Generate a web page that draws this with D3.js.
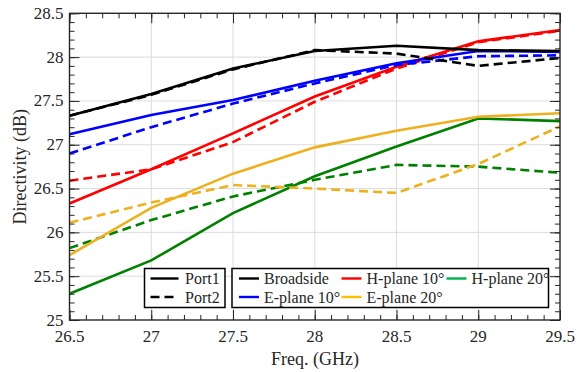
<!DOCTYPE html>
<html><head><meta charset="utf-8">
<script src="https://cdn.jsdelivr.net/npm/d3@7"></script>
</head><body style="margin:0;background:#fff">
<svg width="577" height="372" id="s" font-family="Times New Roman, Liberation Serif, serif" style="display:block"></svg>
<script>
const freqs = [26.5, 27, 27.5, 28, 28.5, 29, 29.5];
const xTicks = [26.5, 27, 27.5, 28, 28.5, 29, 29.5];
const yTicks = [25, 25.5, 26, 26.5, 27, 27.5, 28, 28.5];
const seriesNames = ["Broadside", "E-plane 10°", "H-plane 10°", "E-plane 20°", "H-plane 20°"];
const seriesColors = ["#000000", "#0000ff", "#ff0000", "#edb120", "#008000"];
const legendColors = ["#000000", "#0000ff", "#ff0000", "#ffc000", "#00b050"];
const broadsideP1 = [27.33, 27.58, 27.87, 28.07, 28.13, 28.08, 28.07];
const broadsideP2 = [27.33, 27.57, 27.86, 28.08, 28.04, 27.90, 27.99];
const ePlane10P1 = [27.12, 27.34, 27.51, 27.73, 27.93, 28.07, 28.06];
const ePlane10P2 = [26.90, 27.20, 27.47, 27.70, 27.91, 28.01, 28.02];
const hPlane10P1 = [26.33, 26.72, 27.13, 27.55, 27.89, 28.18, 28.31];
const hPlane10P2 = [26.59, 26.72, 27.03, 27.49, 27.87, 28.17, 28.30];
const ePlane20P1 = [25.74, 26.28, 26.67, 26.97, 27.16, 27.32, 27.36];
const ePlane20P2 = [26.11, 26.34, 26.54, 26.50, 26.45, 26.78, 27.21];
const hPlane20P1 = [25.30, 25.68, 26.22, 26.64, 26.98, 27.30, 27.27];
const hPlane20P2 = [25.82, 26.14, 26.41, 26.60, 26.77, 26.75, 26.68];

const port1 = [broadsideP1, ePlane10P1, hPlane10P1, ePlane20P1, hPlane20P1];
const port2 = [broadsideP2, ePlane10P2, hPlane10P2, ePlane20P2, hPlane20P2];

const FONT = "Times New Roman, Liberation Serif, serif";
const L = 69.5, R = 560, T = 13.3, B = 320;
const svg = d3.select("#s");
const x = d3.scaleLinear().domain([26.5, 29.5]).range([L, R]);
const y = d3.scaleLinear().domain([25, 28.5]).range([B, T]);

// grid
const g = svg.append("g");
g.selectAll(".gx").data(xTicks.slice(1, -1)).enter().append("line")
  .attr("x1", d => x(d)).attr("x2", d => x(d)).attr("y1", T).attr("y2", B)
  .attr("stroke", "#dcdcdc").attr("stroke-width", 1);
g.selectAll(".gy").data(yTicks.slice(1, -1)).enter().append("line")
  .attr("y1", d => y(d)).attr("y2", d => y(d)).attr("x1", L).attr("x2", R)
  .attr("stroke", "#dcdcdc").attr("stroke-width", 1);

// data lines
const line = d3.line().x((d, i) => x(freqs[i])).y(d => y(d));
const plot = svg.append("g");
[4, 3, 2, 1, 0].forEach(k => {
  plot.append("path").attr("d", line(port2[k])).attr("fill", "none")
    .attr("stroke", seriesColors[k]).attr("stroke-width", 2.6).attr("stroke-dasharray", "9,5");
  plot.append("path").attr("d", line(port1[k])).attr("fill", "none")
    .attr("stroke", seriesColors[k]).attr("stroke-width", 2.6);
});

// ticks (inward) via axes
const axC = "#262626";
const xMinor = d3.range(26.5, 29.5001, 0.1).map(v => +v.toFixed(2));
const yMinor = d3.range(25, 28.5001, 0.1).map(v => +v.toFixed(2));
const axG = svg.append("g");
function ax(gen, tr, vals, size) {
  axG.append("g").attr("transform", tr)
    .call(gen.tickValues(vals).tickSizeInner(-size).tickSizeOuter(0).tickFormat(""));
}
ax(d3.axisBottom(x), `translate(0,${B})`, xTicks, 10);
ax(d3.axisTop(x), `translate(0,${T})`, xTicks, 10);
ax(d3.axisLeft(y), `translate(${L},0)`, yTicks, 10);
ax(d3.axisRight(y), `translate(${R},0)`, yTicks, 10);
ax(d3.axisBottom(x), `translate(0,${B})`, xMinor, 5);
ax(d3.axisTop(x), `translate(0,${T})`, xMinor, 5);
ax(d3.axisLeft(y), `translate(${L},0)`, yMinor, 5);
ax(d3.axisRight(y), `translate(${R},0)`, yMinor, 5);
axG.selectAll(".domain").remove();
axG.selectAll(".tick text").remove();
axG.selectAll(".tick line").attr("stroke", axC).attr("stroke-width", 1);
axG.append("rect").attr("x", L).attr("y", T).attr("width", R - L).attr("height", B - T)
  .attr("fill", "none").attr("stroke", axC).attr("stroke-width", 1.4);

const txt = svg.append("g");
txt.selectAll(".xl").data(xTicks).enter().append("text")
  .attr("x", d => x(d)).attr("y", 342).attr("text-anchor", "middle")
  .attr("font-family", FONT).attr("font-size", 17).attr("fill", axC).text(d => String(d));
txt.selectAll(".yl").data(yTicks).enter().append("text")
  .attr("x", 63.5).attr("y", d => y(d) + 5.5).attr("text-anchor", "end")
  .attr("font-family", FONT).attr("font-size", 17).attr("fill", axC).text(d => String(d));

// axis labels
txt.append("text").attr("x", 315).attr("y", 365).attr("text-anchor", "middle")
  .attr("font-family", FONT).attr("font-size", 18).attr("fill", axC).text("Freq. (GHz)");
txt.append("text").attr("transform", `translate(26,${(T + B) / 2}) rotate(-90)`)
  .attr("font-family", FONT).attr("text-anchor", "middle").attr("font-size", 18).attr("fill", axC).text("Directivity (dB)");

// legend 1 (ports)
const lg = svg.append("g");
lg.append("rect").attr("x", 144.5).attr("y", 268.5).attr("width", 80.5).attr("height", 39)
  .attr("fill", "#fff").attr("stroke", "#000").attr("stroke-width", 1.5);
[["Port1", null], ["Port2", "9,5"]].forEach((p, i) => {
  const yy = 278.5 + i * 18.5;
  lg.append("line").attr("x1", 150.5).attr("x2", 178.5).attr("y1", yy).attr("y2", yy)
    .attr("stroke", "#000").attr("stroke-width", 2.4).attr("stroke-dasharray", p[1]);
  lg.append("text").attr("x", 185).attr("y", yy + 5.5).attr("font-family", FONT)
    .attr("font-size", 16).attr("fill", axC).text(p[0]);
});
// legend 2 (series)
lg.append("rect").attr("x", 232).attr("y", 268.5).attr("width", 316.5).attr("height", 39)
  .attr("fill", "#fff").attr("stroke", "#000").attr("stroke-width", 1.5);
const pos = [[239, 278.5], [239, 297], [341.5, 278.5], [341.5, 297], [446.5, 278.5]];
seriesNames.forEach((n, i) => {
  const [lx, ly] = pos[i];
  lg.append("line").attr("x1", lx).attr("x2", lx + 20).attr("y1", ly).attr("y2", ly)
    .attr("stroke", legendColors[i]).attr("stroke-width", 2.4);
  lg.append("text").attr("x", lx + 25).attr("y", ly + 5.5).attr("font-family", FONT)
    .attr("font-size", 16).attr("fill", axC).text(n);
});
</script></body></html>
